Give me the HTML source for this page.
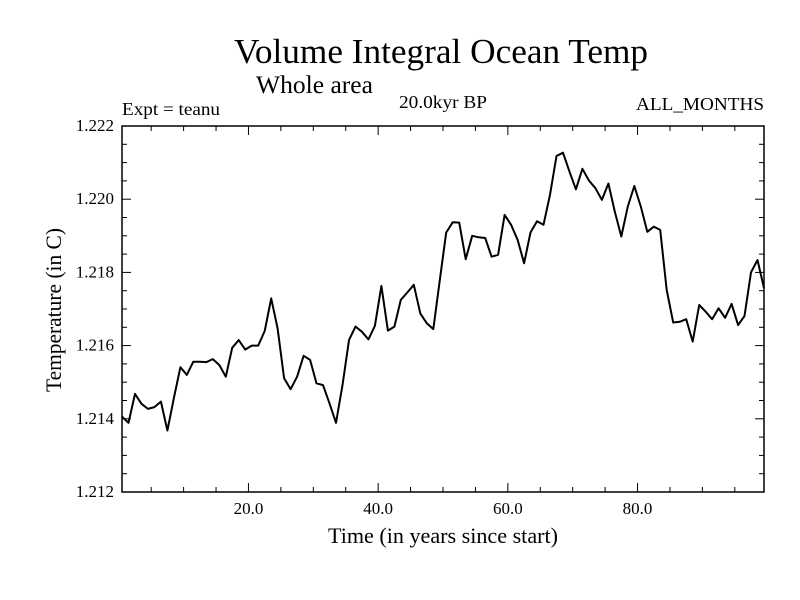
<!DOCTYPE html>
<html><head><meta charset="utf-8"><style>
body{margin:0;background:#fff;}
svg{display:block;font-family:"Liberation Serif",serif;}
</style></head><body>
<svg id="chart" width="800" height="600">
<text x="234" y="63" font-size="35" textLength="414" lengthAdjust="spacingAndGlyphs">Volume Integral Ocean Temp</text>
<text x="256" y="93" font-size="25" textLength="117" lengthAdjust="spacingAndGlyphs">Whole area</text>
<text x="122" y="115" font-size="18" textLength="98" lengthAdjust="spacingAndGlyphs">Expt = teanu</text>
<text x="399" y="108" font-size="18" textLength="88" lengthAdjust="spacingAndGlyphs">20.0kyr BP</text>
<text x="636" y="110" font-size="18" textLength="128" lengthAdjust="spacingAndGlyphs">ALL_MONTHS</text>
<text x="328" y="543" font-size="22" textLength="230" lengthAdjust="spacingAndGlyphs">Time (in years since start)</text>
<text transform="translate(61,392) rotate(-90)" font-size="22" textLength="164" lengthAdjust="spacingAndGlyphs">Temperature (in C)</text>
<g id="axes"></g>
<path id="line" fill="none" stroke="#000" stroke-width="2" stroke-linejoin="round"/>
</svg>
<script>
const values=[1.21406,1.21389,1.21468,1.21441,1.21427,1.21432,1.21447,1.21368,1.21457,1.21541,
1.21520,1.21556,1.21556,1.21555,1.21563,1.21547,1.21515,1.21594,1.21615,1.21589,
1.21600,1.21600,1.21640,1.21729,1.21647,1.21511,1.21481,1.21515,1.21572,1.21561,
1.21497,1.21492,1.21442,1.21389,1.21492,1.21615,1.21652,1.21638,1.21617,1.21654,
1.21763,1.21641,1.21652,1.21725,1.21745,1.21766,1.21688,1.21661,1.21645,1.21779,
1.21909,1.21937,1.21936,1.21836,1.21900,1.21896,1.21894,1.21843,1.21848,1.21957,
1.21930,1.21889,1.21825,1.21909,1.21940,1.21930,1.22012,1.22118,1.22127,1.22075,
1.22027,1.22083,1.22051,1.22030,1.21998,1.22043,1.21966,1.21898,1.21980,1.22036,
1.21980,1.21911,1.21925,1.21916,1.21752,1.21663,1.21665,1.21672,1.21611,1.21711,
1.21693,1.21672,1.21702,1.21676,1.21714,1.21656,1.21681,1.21800,1.21834,1.21757];
const years=values.map((v,i)=>0.5+i);
const xTicks=[20,40,60,80];
const xTickLabels=["20.0","40.0","60.0","80.0"];
const yTicks=[1.212,1.214,1.216,1.218,1.220,1.222];
const yTickLabels=["1.212","1.214","1.216","1.218","1.220","1.222"];
const X0=122,X1=764,Y0=492,Y1=126,xmin=0.5,xmax=99.5,ymin=1.212,ymax=1.222;
const sx=t=>X0+(t-xmin)/(xmax-xmin)*(X1-X0);
const sy=v=>Y0-(v-ymin)/(ymax-ymin)*(Y0-Y1);
const NS="http://www.w3.org/2000/svg";
const g=document.getElementById('axes');
function mk(tag,a){const e=document.createElementNS(NS,tag);for(const k in a)e.setAttribute(k,a[k]);g.appendChild(e);return e;}
const frame=mk('rect',{x:X0,y:Y1,width:X1-X0,height:Y0-Y1,fill:'none',stroke:'#000','stroke-width':1.5});


for(let t=5;t<xmax;t+=5){const x=sx(t);const L=(t%20===0)?9:5;
 const a=mk('line',{x1:x,y1:Y0,x2:x,y2:Y0-L,stroke:'#000'});
 
 
 const b=mk('line',{x1:x,y1:Y1,x2:x,y2:Y1+L,stroke:'#000'});
 
 }
for(let k=0;k<=20;k++){const v=ymin+k*0.0005;const y=sy(v);const L=(k%4===0)?9:5;
 const a=mk('line',{x1:X0,y1:y,x2:X0+L,y2:y,stroke:'#000'});
 
 
 const b=mk('line',{x1:X1,y1:y,x2:X1-L,y2:y,stroke:'#000'});
 
 }
xTicks.forEach((t,i)=>{const e=mk('text',{x:sx(t),y:Y0+22,'font-size':17,'text-anchor':'middle'});e.textContent=xTickLabels[i];
 
 });
yTicks.forEach((v,i)=>{const e=mk('text',{x:X0-8,y:sy(v)+5,'font-size':17,'text-anchor':'end'});e.textContent=yTickLabels[i];
 
 });
document.getElementById('line').setAttribute('d',values.map((v,i)=>(i?'L':'M')+sx(years[i]).toFixed(1)+','+sy(v).toFixed(1)).join(''));
</script>
</body></html>
